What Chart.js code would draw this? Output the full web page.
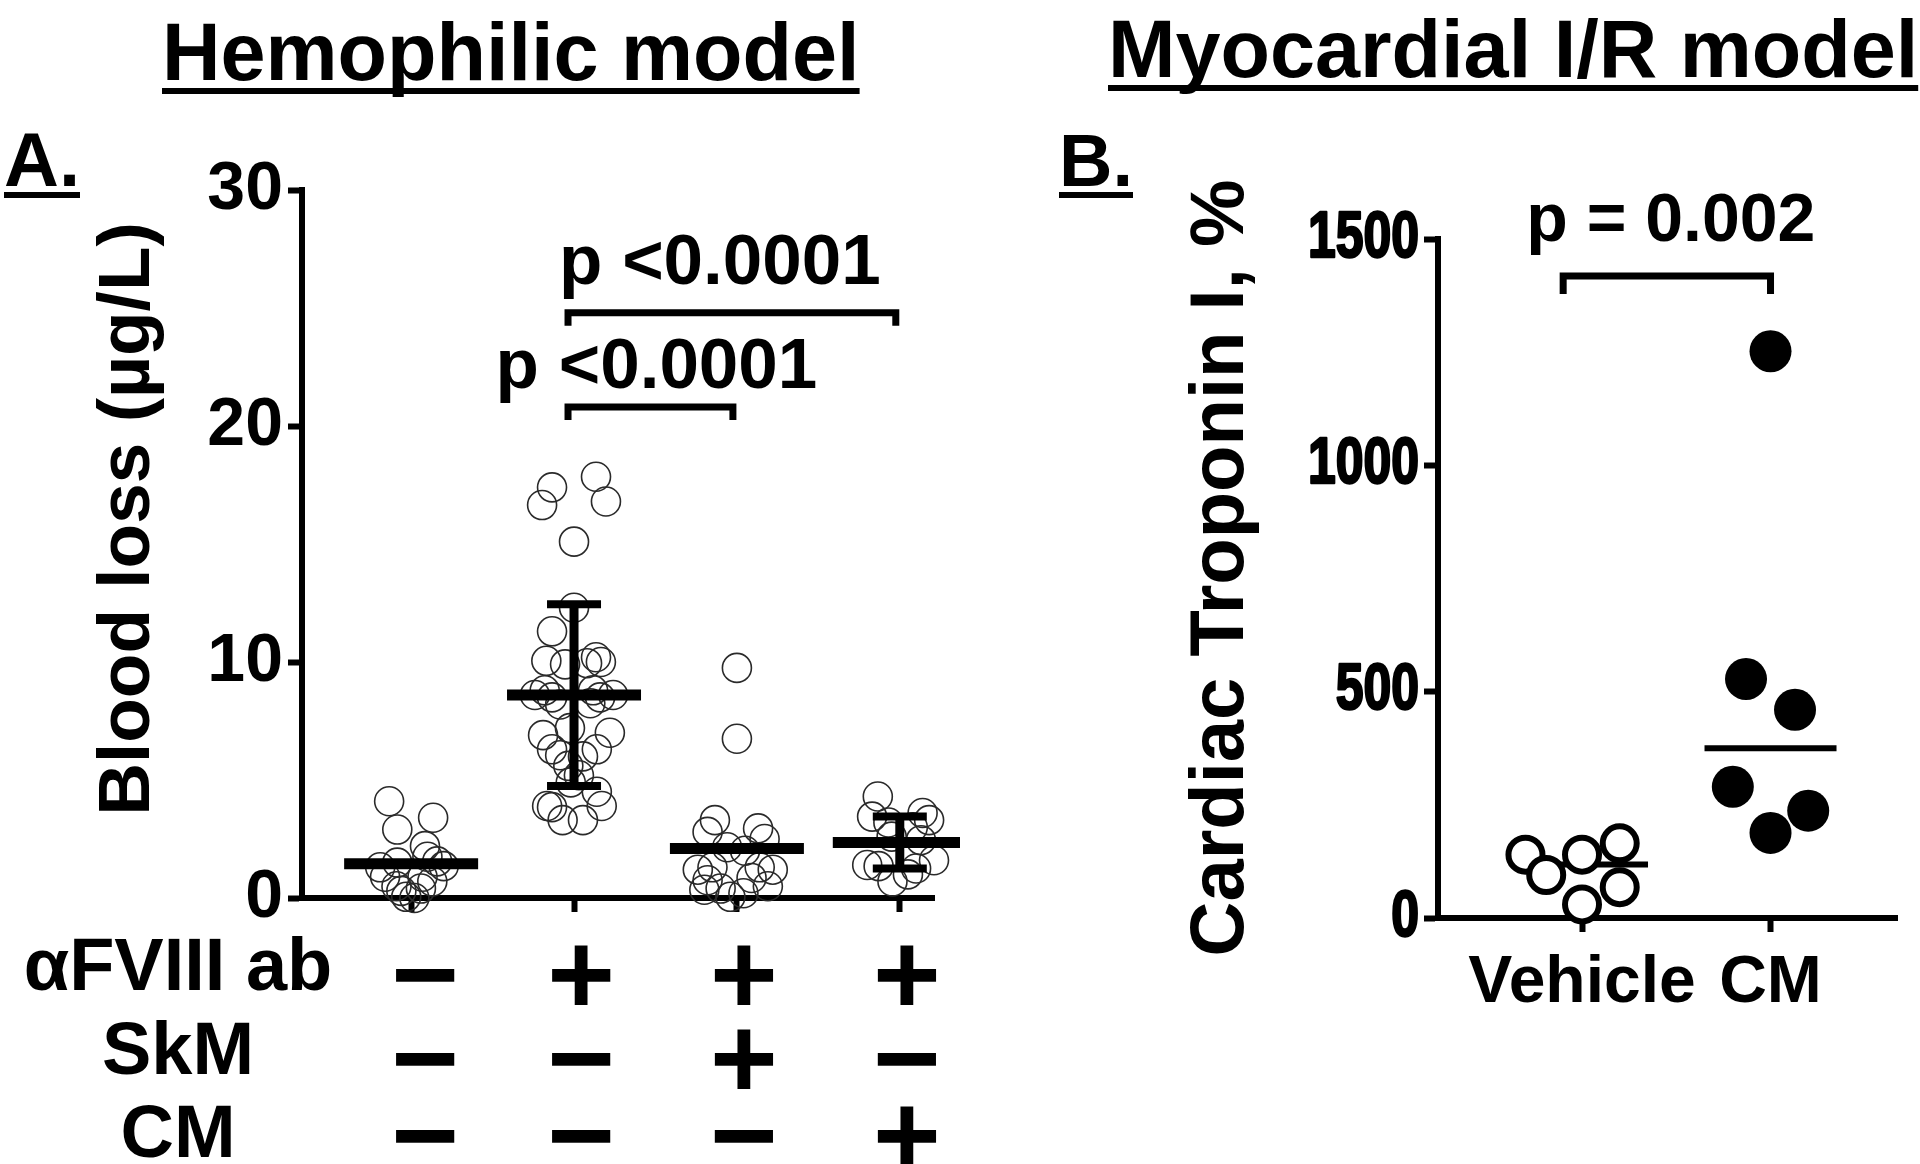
<!DOCTYPE html>
<html>
<head>
<meta charset="utf-8">
<title>Hemophilic model / Myocardial I/R model</title>
<script src="https://cdn.jsdelivr.net/npm/chart.js@4.4.1/dist/chart.umd.min.js"></script>
<style>
  html, body { margin: 0; padding: 0; background: #fff; }
  #wrap { position: relative; width: 1920px; height: 1164px; overflow: hidden; background: #fff; }
  canvas { position: absolute; top: 0; }
  #chartA { left: 0; }
  #chartB { left: 960px; }
</style>
</head>
<body>
<div id="wrap">
  <canvas id="chartA" width="960" height="1164"></canvas>
  <canvas id="chartB" width="960" height="1164"></canvas>
</div>
<script>
  // ---- Panel A: blood loss (µg/L), one list per group, jitter in group units
  const groupsA = [1, 2, 3, 4];
  const bloodLoss1 = [4.1, 2.9, 3.4, 2.2, 1.3, 1.5, 1.75, 1.35, 1.55, 0.9, 0.5, 0.9, 0.7, 0.05, 0.0, 0.3, 0.4];
  const jitter1 = [-0.135, -0.085, 0.135, 0.085, -0.19, -0.085, 0.1, 0.2, 0.16, -0.16, -0.09, 0.07, 0.13, -0.03, 0.02, -0.06, 0.06];
  const bloodLoss2 = [17.4, 16.65, 17.85, 16.8, 15.1, 12.3, 11.3, 10.05, 9.9, 10.2, 10.0, 9.95,
    8.6, 8.8, 8.5, 8.8, 8.5, 8.6, 8.2, 8.25, 7.2, 6.9, 7.0, 6.3, 6.3, 6.05, 6.0, 5.6,
    3.9, 3.85, 3.3, 3.3, 4.5, 3.9, 4.9, 5.2];
  const jitter2 = [-0.135, -0.196, 0.135, 0.196, 0, 0, -0.135, -0.17, -0.055, 0.135, 0.165, 0.08,
    -0.24, -0.18, -0.135, 0.117, 0.16, 0.24, -0.085, 0.1, -0.025, -0.19, 0.22, -0.135, 0.14, -0.085, 0.055, -0.035,
    -0.165, -0.135, -0.07, 0.055, 0.14, 0.17, -0.02, 0.03];
  const bloodLoss3 = [9.75, 6.75, 3.3, 2.8, 2.95, 2.5, 2.15, 2.0, 1.2, 1.3, 1.2, 1.3, 0.75, 0.85, 0.4, 0.2, 0.05, 0.5, 0.35];
  const jitter3 = [0, 0, -0.135, -0.18, 0.13, 0.17, -0.06, 0.05, -0.24, -0.15, 0.22, 0.14, -0.18, 0.09, -0.1, 0.04, -0.04, 0.19, -0.2];
  const bloodLoss4 = [4.3, 3.45, 3.2, 3.6, 3.3, 2.45, 1.4, 1.35, 1.6, 1.25, 0.7, 1.0, 2.6, 3.0];
  const jitter4 = [-0.135, -0.17, -0.07, 0.14, 0.18, 0.13, -0.2, -0.13, 0.21, 0.1, -0.045, 0.05, -0.05, 0.08];
  const meanA = [1.45, 8.6, 2.1, 2.35];
  const sdA = [0, 3.85, 0, 1.1];
  const ticksA = [0, 10, 20, 30];

  // brackets: group from / to, bracket height and p label height (data units)
  const bracketFromA = [2, 2];
  const bracketToA = [3, 4];
  const bracketYA = [20.8, 24.8];
  const pLabelYA = [21.6, 26.0];
  const pLabelA = ['p <0.0001', 'p <0.0001'];

  // treatment table under panel A
  const rowLabels = ['\u03b1FVIII ab', 'SkM', 'CM'];
  const rowSigns = [
    ['\u2212', '+', '+', '+'],
    ['\u2212', '\u2212', '+', '\u2212'],
    ['\u2212', '\u2212', '\u2212', '+']
  ];

  // ---- Panel B: cardiac troponin I, %
  const groupsB = [1, 2];
  const categoriesB = ['Vehicle', 'CM'];
  const troponinVehicle = [140, 95, 140, 165, 68, 30];
  const jitterVehicle = [-0.3, -0.19, 0, 0.2, 0.2, 0];
  const troponinCM = [1252, 528, 460, 290, 237, 188];
  const jitterCM = [0, -0.13, 0.13, -0.2, 0.2, 0];
  const medianB = [118, 375];
  const ticksB = [0, 500, 1000, 1500];
  const bracketXB = [0.9, 2.0];
  const bracketYB = 1418;
  const pLabelYB = 1495;
  const pLabelB = 'p = 0.002';

  const FONT = '"Liberation Sans", Arial, Helvetica, sans-serif';

  function font(size) {
    return 'bold ' + size + 'px ' + FONT;
  }

  function line(ctx, x1, y1, x2, y2) {
    ctx.beginPath();
    ctx.moveTo(x1, y1);
    ctx.lineTo(x2, y2);
    ctx.stroke();
  }

  function underlinedText(ctx, text, x, y, size, gap, thick) {
    ctx.font = font(size);
    ctx.textAlign = 'left';
    ctx.textBaseline = 'alphabetic';
    ctx.fillText(text, x, y);
    const w = ctx.measureText(text).width;
    ctx.fillRect(x, y + gap, w, thick);
  }

  function verticalText(ctx, text, cx, cy, size) {
    ctx.save();
    ctx.translate(cx, cy);
    ctx.rotate(-Math.PI / 2);
    ctx.font = font(size);
    ctx.textAlign = 'center';
    ctx.textBaseline = 'middle';
    ctx.fillText(text, 0, 0);
    ctx.restore();
  }

  function bracket(ctx, x1, x2, y, leg) {
    ctx.beginPath();
    ctx.moveTo(x1, y + leg);
    ctx.lineTo(x1, y);
    ctx.lineTo(x2, y);
    ctx.lineTo(x2, y + leg);
    ctx.stroke();
  }

  function points(values, jitter, group) {
    return values.map((v, i) => ({ x: group + jitter[i], y: v }));
  }

  function fixedSize(size) {
    return scale => {
      if (scale.isHorizontal()) scale.height = size;
      else scale.width = size;
    };
  }

  function axisStyle(extra) {
    return Object.assign({
      grid: { drawOnChartArea: false, drawTicks: true, tickLength: 14, tickWidth: 6, tickColor: '#000' },
      border: { display: true, color: '#000', width: 6 }
    }, extra);
  }

  const panelAPlugin = {
    id: 'panelA',
    afterDatasetsDraw(chart) {
      const { ctx } = chart;
      const x = chart.scales.x;
      const y = chart.scales.y;
      ctx.save();
      ctx.strokeStyle = '#000';
      ctx.fillStyle = '#000';

      // mean and SD
      groupsA.forEach((g, i) => {
        const cx = x.getPixelForValue(g);
        const my = y.getPixelForValue(meanA[i]);
        if (sdA[i] > 0) {
          const top = y.getPixelForValue(meanA[i] + sdA[i]);
          const bot = y.getPixelForValue(meanA[i] - sdA[i]);
          ctx.lineWidth = 9;
          line(ctx, cx, top, cx, bot);
          ctx.lineWidth = 8;
          line(ctx, cx - 27, top, cx + 27, top);
          line(ctx, cx - 27, bot, cx + 27, bot);
        }
        ctx.lineWidth = 11;
        line(ctx, cx - 67, my, cx + 67, my);
      });

      // brackets with p values
      ctx.lineWidth = 7;
      bracketFromA.forEach((from, i) => {
        const x1 = x.getPixelForValue(from) - 6;
        const x2 = x.getPixelForValue(bracketToA[i]) - 4;
        const by = y.getPixelForValue(bracketYA[i]);
        bracket(ctx, x1, x2, by, 13);
        ctx.font = font(71);
        ctx.textAlign = 'center';
        ctx.textBaseline = 'alphabetic';
        ctx.fillText(pLabelA[i], (x1 + x2) / 2 + (i === 1 ? -12 : 6), y.getPixelForValue(pLabelYA[i]));
      });

      // treatment table
      const rowCenters = [982, 1066, 1143];
      const labelBase = [990, 1074, 1157];
      const colShift = [14, 7, 7, 7];
      rowLabels.forEach((label, r) => {
        ctx.font = font(74);
        ctx.textAlign = 'center';
        ctx.textBaseline = 'alphabetic';
        ctx.fillText(label, 178, labelBase[r]);
        ctx.font = font(116);
        ctx.textBaseline = 'middle';
        rowSigns[r].forEach((s, j) => {
          ctx.fillText(s, x.getPixelForValue(groupsA[j]) + colShift[j], rowCenters[r]);
        });
      });

      // titles
      underlinedText(ctx, 'Hemophilic model', 162, 80, 81, 8, 6);
      underlinedText(ctx, 'A.', 4, 186, 76, 6, 6);
      verticalText(ctx, 'Blood loss (\u00b5g/L)', 129, 519, 73);
      ctx.restore();
    }
  };

  const panelBPlugin = {
    id: 'panelB',
    beforeDatasetsDraw(chart) {
      const { ctx } = chart;
      const x = chart.scales.x;
      const y = chart.scales.y;
      ctx.save();
      ctx.strokeStyle = '#000';
      ctx.lineWidth = 6;
      groupsB.forEach((g, i) => {
        const cx = x.getPixelForValue(g);
        const my = y.getPixelForValue(medianB[i]);
        line(ctx, cx - 66, my, cx + 66, my);
      });
      ctx.restore();
    },
    afterDatasetsDraw(chart) {
      const { ctx } = chart;
      const x = chart.scales.x;
      const y = chart.scales.y;
      ctx.save();
      ctx.strokeStyle = '#000';
      ctx.fillStyle = '#000';

      // y tick labels: heavy condensed digits, placed on the axis' own ticks
      ctx.font = font(64);
      ctx.textAlign = 'right';
      ctx.textBaseline = 'middle';
      ctx.lineWidth = 2.5;
      ctx.lineJoin = 'round';
      y.ticks.forEach(t => {
        ctx.save();
        ctx.translate(y.right - 14 - 5, y.getPixelForValue(t.value));
        ctx.scale(0.78, 1);
        ctx.fillText(String(t.value), 0, 0);
        ctx.strokeText(String(t.value), 0, 0);
        ctx.restore();
      });

      ctx.lineWidth = 7;
      ctx.lineJoin = 'miter';
      const x1 = x.getPixelForValue(bracketXB[0]);
      const x2 = x.getPixelForValue(bracketXB[1]);
      bracket(ctx, x1, x2, y.getPixelForValue(bracketYB), 18);
      ctx.font = font(68);
      ctx.textAlign = 'center';
      ctx.textBaseline = 'alphabetic';
      ctx.fillText(pLabelB, (x1 + x2) / 2 + 4, y.getPixelForValue(pLabelYB));

      underlinedText(ctx, 'Myocardial I/R model', 148, 77, 81, 8, 6);
      underlinedText(ctx, 'B.', 99, 186, 74, 6, 6);
      verticalText(ctx, 'Cardiac Troponin I, %', 262, 568, 76);
      ctx.restore();
    }
  };

  const ringA = {
    showLine: false,
    pointRadius: 14.5,
    pointBorderWidth: 1.6,
    pointBorderColor: '#2a2a2a',
    pointBackgroundColor: 'rgba(255,255,255,0)',
    clip: false
  };

  const seriesA = [bloodLoss1, bloodLoss2, bloodLoss3, bloodLoss4];
  const jitterA = [jitter1, jitter2, jitter3, jitter4];

  new Chart(document.getElementById('chartA'), {
    type: 'scatter',
    data: {
      datasets: seriesA.map((vals, i) => Object.assign({
        label: 'Group ' + groupsA[i],
        data: points(vals, jitterA[i], groupsA[i])
      }, ringA))
    },
    options: {
      responsive: false,
      animation: false,
      devicePixelRatio: 1,
      events: [],
      layout: { padding: { left: 0, top: 190, right: 26, bottom: 0 } },
      plugins: { legend: { display: false }, tooltip: { enabled: false } },
      scales: {
        x: axisStyle({
          type: 'linear',
          min: 0.33,
          max: 4.21,
          afterBuildTicks: s => { s.ticks = groupsA.map(v => ({ value: v })); },
          ticks: { display: false },
          afterFit: fixedSize(1164 - 898)
        }),
        y: axisStyle({
          min: 0,
          max: 30,
          afterBuildTicks: s => { s.ticks = ticksA.map(v => ({ value: v })); },
          ticks: { color: '#000', font: { family: FONT, size: 68, weight: 'bold' }, padding: 5 },
          afterFit: fixedSize(302)
        })
      }
    },
    plugins: [panelAPlugin]
  });

  new Chart(document.getElementById('chartB'), {
    type: 'scatter',
    data: {
      datasets: [
        {
          label: 'Vehicle',
          data: points(troponinVehicle, jitterVehicle, groupsB[0]),
          pointRadius: 17,
          pointBorderWidth: 6,
          pointBorderColor: '#000',
          pointBackgroundColor: '#fff',
          clip: false
        },
        {
          label: 'CM',
          data: points(troponinCM, jitterCM, groupsB[1]),
          pointRadius: 21,
          pointBorderWidth: 0,
          pointBackgroundColor: '#000',
          clip: false
        }
      ]
    },
    options: {
      responsive: false,
      animation: false,
      devicePixelRatio: 1,
      events: [],
      layout: { padding: { left: 0, top: 239, right: 4, bottom: 0 } },
      plugins: { legend: { display: false }, tooltip: { enabled: false } },
      scales: {
        x: axisStyle({
          type: 'linear',
          min: 0.236,
          max: 2.671,
          afterBuildTicks: s => { s.ticks = groupsB.map(v => ({ value: v })); },
          ticks: {
            color: '#000',
            font: { family: FONT, size: 66, weight: 'bold' },
            padding: 12,
            maxRotation: 0,
            autoSkip: false,
            callback: (v, i) => categoriesB[i]
          },
          afterFit: fixedSize(1164 - 918)
        }),
        y: axisStyle({
          min: 0,
          max: 1500,
          afterBuildTicks: s => { s.ticks = ticksB.map(v => ({ value: v })); },
          ticks: { display: false },
          afterFit: fixedSize(478)
        })
      }
    },
    plugins: [panelBPlugin]
  });
</script>
</body>
</html>
